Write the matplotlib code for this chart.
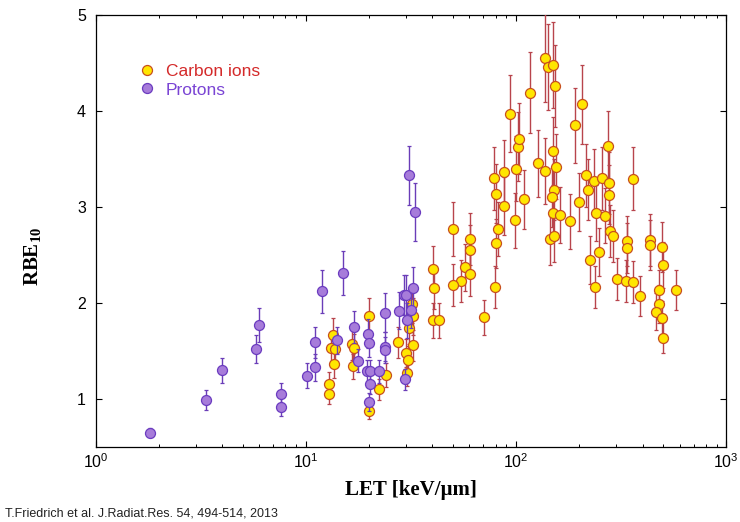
import numpy as np
import matplotlib
matplotlib.use("Agg")
import matplotlib.pyplot as plt

plt.rcParams['font.family'] = ['Liberation Sans', 'DejaVu Sans']
plt.rcParams['mathtext.fontset'] = 'custom'
plt.rcParams['mathtext.rm'] = 'Liberation Sans'
plt.rcParams['mathtext.bf'] = 'Liberation Serif:bold'

# protons: LET [keV/um], RBE10, error
p_let = [1.81, 3.36, 4.0, 5.78, 6.0, 7.63, 7.63, 10.1, 11.0, 11.0, 11.9, 14.05,
         15.0, 16.9, 17.7, 19.7, 20.0, 19.65, 20.2, 22.2, 20.2, 19.9, 23.7, 23.9,
         23.9, 27.6, 29.2, 30.0, 32.5, 31.7, 30.3, 29.5, 30.8, 33.2]
p_rbe = [0.65, 0.99, 1.30, 1.52, 1.77, 1.055, 0.92, 1.24, 1.59, 1.33, 2.12, 1.61,
         2.31, 1.75, 1.40, 1.68, 1.58, 1.29, 1.29, 1.29, 1.155, 0.97, 1.90, 1.545,
         1.51, 1.92, 2.08, 2.08, 2.16, 1.93, 1.82, 1.205, 3.33, 2.95]
p_err = [0.05, 0.10, 0.13, 0.15, 0.18, 0.11, 0.10, 0.13, 0.16, 0.14, 0.22, 0.14,
         0.23, 0.17, 0.12, 0.15, 0.14, 0.12, 0.12, 0.12, 0.10, 0.09, 0.20, 0.15,
         0.14, 0.19, 0.21, 0.21, 0.22, 0.19, 0.18, 0.11, 0.31, 0.30]

# carbon ions: LET [keV/um], RBE10, error
c_let = [13.4, 13.2, 13.7, 13.6, 12.9, 12.9, 16.6, 16.9, 16.7, 20.0, 20.0, 22.3,
         24.0, 27.3, 32.1, 32.5, 31.0, 32.4, 29.9, 30.5, 30.3,
         40.1, 40.5, 40.1, 42.8, 50.1, 60.1, 60.1, 57.4, 60.1, 54.7, 49.9, 70.1,
         79.5, 80.3, 82.1, 78.6, 80.3, 87.9, 87.9, 98.5, 100.0, 101.8, 102.9, 94.0,
         109.6, 117.0, 126.8, 136.8, 137.8, 141.9, 149.4, 153.9, 149.4, 154.7,
         152.2, 148.6, 149.4, 162.5, 180.0, 144.5, 152.2, 206.1, 191.5, 199.5,
         214.4, 220.0, 234.2, 256.0, 276.0, 274.0, 276.0, 240.3, 266.0, 280.0,
         290.0, 247.0, 226.0, 359.0, 236.8, 302.6, 335.0, 361.0, 391.0, 339.0,
         339.0, 436.0, 433.0, 496.0, 500.0, 481.0, 580.0, 481.0, 466.0, 497.0, 500.0]
c_rbe = [1.67, 1.53, 1.52, 1.36, 1.16, 1.05, 1.57, 1.53, 1.34, 1.86, 0.88, 1.10,
         1.25, 1.59, 1.99, 1.86, 1.74, 1.56, 1.48, 1.41, 1.27,
         2.35, 2.16, 1.82, 1.82, 2.77, 2.67, 2.55, 2.37, 2.30, 2.23, 2.19, 1.85,
         2.17, 2.62, 2.77, 3.30, 3.14, 3.36, 3.01, 2.86, 3.40, 3.63, 3.71, 3.97,
         3.08, 4.19, 3.455, 3.375, 4.55, 4.46, 4.48, 4.26, 3.58, 3.42,
         3.18, 3.10, 2.94, 2.92, 2.85, 2.67, 2.70, 4.07, 3.85, 3.05,
         3.33, 3.18, 3.27, 3.30, 3.25, 3.635, 3.13, 2.94, 2.91, 2.75,
         2.70, 2.53, 2.45, 3.295, 2.17, 2.25, 2.23, 2.215, 2.07, 2.645,
         2.57, 2.66, 2.60, 2.58, 2.40, 2.135, 2.135, 1.99, 1.91, 1.84, 1.64]
c_err = [0.17, 0.15, 0.15, 0.14, 0.12, 0.10, 0.16, 0.15, 0.13, 0.19, 0.09, 0.11,
         0.13, 0.16, 0.20, 0.19, 0.17, 0.16, 0.15, 0.14, 0.13,
         0.24, 0.22, 0.18, 0.18, 0.28, 0.27, 0.26, 0.24, 0.23, 0.22, 0.22, 0.18,
         0.22, 0.26, 0.28, 0.33, 0.31, 0.34, 0.30, 0.29, 0.34, 0.36, 0.37, 0.40,
         0.31, 0.42, 0.35, 0.34, 0.46, 0.45, 0.45, 0.43, 0.36, 0.34,
         0.32, 0.31, 0.29, 0.29, 0.29, 0.27, 0.27, 0.41, 0.39, 0.30,
         0.33, 0.32, 0.33, 0.33, 0.32, 0.36, 0.31, 0.29, 0.29, 0.27,
         0.27, 0.25, 0.25, 0.33, 0.22, 0.22, 0.22, 0.22, 0.21, 0.26,
         0.26, 0.27, 0.26, 0.26, 0.24, 0.21, 0.21, 0.20, 0.19, 0.18, 0.16]

fig = plt.figure(figsize=(7.4, 5.22), dpi=100)
ax = fig.add_axes([0.1293, 0.1437, 0.852, 0.8276])

eb_c = ax.errorbar(c_let, c_rbe, yerr=c_err, fmt='o', ms=7.2, mfc='#FFE600', mec='#C8501E',
                   mew=0.9, ecolor='#B8444C', elinewidth=1.0, capsize=1.5, capthick=0.8,
                   zorder=3)
eb_p = ax.errorbar(p_let, p_rbe, yerr=p_err, fmt='o', ms=7.2, mfc='#A77CDA', mec='#6B3CC0',
                   mew=0.9, ecolor='#6A3DB8', elinewidth=1.0, capsize=1.5, capthick=0.8,
                   zorder=4)

ax.set_xscale('log')
ax.set_xlim(1, 1000)
ax.set_ylim(0.5, 5)
ax.set_yticks([1, 2, 3, 4, 5])

ax.tick_params(which='both', direction='in', top=True, right=True, labelsize=11.5)
ax.tick_params(which='major', length=4, width=0.8)
ax.tick_params(which='minor', length=2.5, width=0.7)
ax.tick_params(axis='y', pad=7)
ax.tick_params(axis='x', pad=4)
for s in ax.spines.values():
    s.set_linewidth(0.9)

ax.set_xlabel('LET [keV/µm]', fontsize=15, fontweight='bold',
              family='Liberation Serif', labelpad=6)
ax.set_ylabel(r'RBE$_{\mathbf{10}}$', fontsize=15, fontweight='bold',
              family='Liberation Serif')
ax.yaxis.set_label_coords(-0.082, 0.44)

leg = ax.legend(handles=[eb_c[0], eb_p[0]], labels=['Carbon ions', 'Protons'],
                loc='upper left', bbox_to_anchor=(0.071, 0.887), frameon=False,
                fontsize=12.5, handlelength=0.7, handletextpad=0.75,
                labelspacing=0.2, borderpad=0, borderaxespad=0)
for t, c in zip(leg.get_texts(), ['#D42A2A', '#7A44D4']):
    t.set_color(c)

fig.text(0.007, 0.017, 'T.Friedrich et al. J.Radiat.Res. 54, 494-514, 2013',
         fontsize=9, va='center', color='#222222')

fig.savefig('out.png', dpi=100)
